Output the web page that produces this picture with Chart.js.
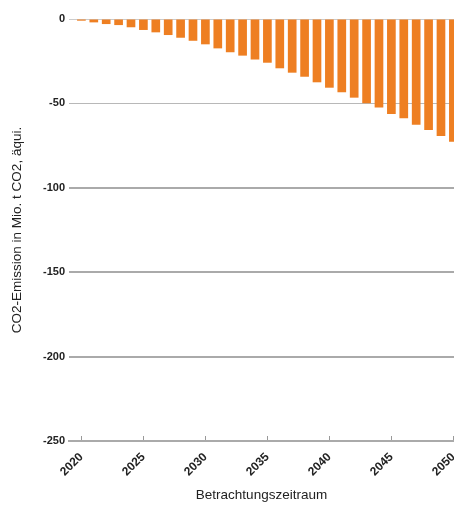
<!DOCTYPE html>
<html><head><meta charset="utf-8">
<script src="https://cdn.jsdelivr.net/npm/chart.js@4"></script>
<style>html,body{margin:0;padding:0;background:#fff;overflow:hidden;width:454px;height:506px}canvas{display:block}</style>
</head><body><canvas id="c" width="454" height="506"></canvas>
<script>
const years = [2020,2021,2022,2023,2024,2025,2026,2027,2028,2029,2030,2031,2032,2033,2034,2035,2036,2037,2038,2039,2040,2041,2042,2043,2044,2045,2046,2047,2048,2049,2050];
const emissions = [-1,-2,-3,-3.6,-4.9,-6.5,-7.9,-9.5,-11.1,-12.9,-15,-17.4,-19.7,-21.7,-24,-25.9,-29.2,-31.8,-34.2,-37.5,-40.7,-43.4,-46.6,-49.9,-52.5,-56.3,-58.8,-62.6,-65.8,-69.3,-72.7];
const xTickYears = [2020,2025,2030,2035,2040,2045,2050];
const yTicks = [0,-50,-100,-150,-200,-250];
const xTitle = 'Betrachtungszeitraum';
const yTitle = 'CO2-Emission in Mio. t CO2, äqui.';

const FONT = '"Liberation Sans", Arial, sans-serif';

const tickMarks = {
  id: 'tickMarks',
  afterDatasetsDraw(chart) {
    const xs = chart.scales.x, ctx = chart.ctx;
    const b = chart.chartArea.bottom;
    ctx.save();
    ctx.strokeStyle = '#999';
    ctx.lineWidth = 1;
    xs.ticks.forEach(t => {
      const px = Math.round(xs.getPixelForValue(t.value)) + 0.5;
      ctx.beginPath();
      ctx.moveTo(px, b - 1);
      ctx.lineTo(px, b - 5);
      ctx.stroke();
    });
    ctx.restore();
  }
};

new Chart(document.getElementById('c'), {
  type: 'bar',
  data: {
    datasets: [{
      data: years.map((y, i) => ({x: y, y: emissions[i]})),
      backgroundColor: '#ee7f22',
      borderWidth: 0,
      barPercentage: 0.7,
      categoryPercentage: 1
    }]
  },
  options: {
    responsive: false,
    animation: false,
    events: [],
    layout: {padding: {top: 19, left: 0, right: 0, bottom: 0}},
    plugins: {legend: {display: false}, tooltip: {enabled: false}},
    scales: {
      x: {
        type: 'linear',
        offset: false,
        min: 2019,
        max: 2050.05,
        afterBuildTicks: s => { s.ticks = xTickYears.map(v => ({value: v})); },
        afterFit: s => { s.paddingLeft = 0; s.paddingRight = 0; s.height = 65; },
        ticks: {
          minRotation: 45, maxRotation: 45, padding: 1,
          font: {family: FONT, size: 12, weight: 'bold'}, color: '#222',
          callback: v => String(v)
        },
        grid: {display: false, offset: false},
        border: {display: true, color: '#aaa', width: 2},
        title: {display: true, text: xTitle, font: {family: FONT, size: 13.5}, color: '#222', padding: {top: 4, bottom: 3}}
      },
      y: {
        min: -250, max: 0,
        afterBuildTicks: s => { s.ticks = yTicks.map(v => ({value: v})); },
        afterFit: s => { s.width = 69; },
        ticks: {padding: 4, font: {family: FONT, size: 11, weight: 'bold'}, color: '#222'},
        grid: {
          drawTicks: false,
          color: c => (c.tick && c.tick.value === 0) ? '#cccccc' : (c.tick && c.tick.value === -50 ? '#b8b8b8' : '#aaaaaa'),
          lineWidth: c => (c.tick && (c.tick.value === 0 || c.tick.value === -50)) ? 1 : 2
        },
        border: {display: false},
        title: {display: true, text: yTitle, font: {family: FONT, size: 13.5}, color: '#222', padding: {top: 9, bottom: 0}}
      }
    }
  },
  plugins: [tickMarks]
});
</script>
</body></html>
